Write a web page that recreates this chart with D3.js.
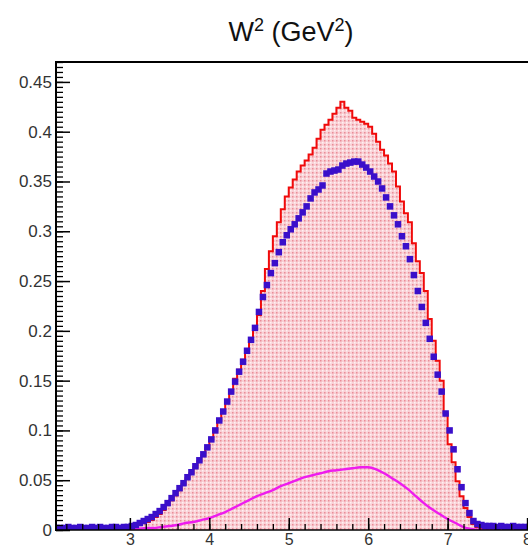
<!DOCTYPE html>
<html>
<head>
<meta charset="utf-8">
<script src="https://cdn.jsdelivr.net/npm/d3@7"></script>
<style>
  body { margin: 0; background: #fff; }
  svg text { font-family: "Liberation Sans", Arial, Helvetica, sans-serif; }
</style>
</head>
<body>
<div id="chart"></div>
<script>
// histogram binning (GeV^2)
var binStart = 2.05;
var binWidth = 0.05;

// red histogram (filled), one value per 0.05 bin from 2.05
var redValues = [
  0, 0, 0, 0, 0, 0, 0, 0, 0, 0,                                 // 2.05-2.55
  0, 0, 0, 0, 0, 0, 0, 0.001, 0.002, 0.003,                     // 2.55-3.05
  0.004, 0.005, 0.007, 0.008, 0.010, 0.013, 0.016, 0.020, 0.025, 0.030, // 3.05-3.55
  0.035, 0.040, 0.046, 0.052, 0.057, 0.063, 0.069, 0.075, 0.082, 0.091, // 3.55-4.05
  0.100, 0.110, 0.119, 0.129, 0.139, 0.152, 0.161, 0.171, 0.181, 0.192, // 4.05-4.55
  0.203, 0.216, 0.240, 0.262, 0.280, 0.295, 0.309, 0.322, 0.335, 0.344, // 4.55-5.05
  0.352, 0.360, 0.366, 0.371, 0.377, 0.384, 0.393, 0.402, 0.407, 0.412, // 5.05-5.55
  0.418, 0.424, 0.430, 0.424, 0.421, 0.414, 0.412, 0.410, 0.408, 0.405, // 5.55-6.05
  0.398, 0.390, 0.382, 0.376, 0.368, 0.360, 0.345, 0.330, 0.318, 0.309, // 6.05-6.55
  0.288, 0.270, 0.258, 0.240, 0.212, 0.190, 0.170, 0.150, 0.117, 0.086, // 6.55-7.05
  0.068, 0.049, 0.034, 0.022, 0.013, 0.006, 0.003, 0.001, 0, 0,         // 7.05-7.55
  0, 0, 0, 0, 0, 0, 0, 0, 0, 0                                  // 7.55-8.05
];

// blue points, same binning
var blueValues = [
  0.002, 0.002, 0.002, 0.003, 0.002, 0.002, 0.003, 0.002, 0.002, 0.003, // 2.05-2.55
  0.002, 0.003, 0.002, 0.002, 0.003, 0.003, 0.002, 0.003, 0.003, 0.004, // 2.55-3.05
  0.005, 0.007, 0.009, 0.011, 0.013, 0.016, 0.019, 0.023, 0.027, 0.032, // 3.05-3.55
  0.037, 0.042, 0.047, 0.053, 0.058, 0.064, 0.070, 0.076, 0.083, 0.091, // 3.55-4.05
  0.100, 0.110, 0.119, 0.129, 0.139, 0.149, 0.159, 0.169, 0.180, 0.191, // 4.05-4.55
  0.203, 0.219, 0.234, 0.246, 0.258, 0.268, 0.279, 0.289, 0.296, 0.302, // 4.55-5.05
  0.307, 0.313, 0.319, 0.325, 0.333, 0.339, 0.342, 0.346, 0.358, 0.360, // 5.05-5.55
  0.361, 0.362, 0.366, 0.368, 0.369, 0.370, 0.370, 0.367, 0.364, 0.360, // 5.55-6.05
  0.355, 0.350, 0.343, 0.334, 0.325, 0.316, 0.307, 0.295, 0.285, 0.272, // 6.05-6.55
  0.256, 0.240, 0.224, 0.208, 0.192, 0.174, 0.156, 0.139, 0.117, 0.100, // 6.55-7.05
  0.081, 0.061, 0.043, 0.027, 0.017, 0.009, 0.006, 0.005, 0.004, 0.004, // 7.05-7.55
  0.004, 0.003, 0.004, 0.003, 0.003, 0.004, 0.003, 0.003, 0.003, 0.003  // 7.55-8.05
];

// magenta curve, sampled every 0.1
var magentaX = [2.1, 2.3, 2.5, 2.7, 2.9, 3.0, 3.1, 3.2, 3.3, 3.4, 3.5, 3.6, 3.7, 3.8, 3.9,
  4.0, 4.1, 4.2, 4.3, 4.4, 4.5, 4.6, 4.7, 4.8, 4.9, 5.0, 5.1, 5.2, 5.3, 5.4, 5.5,
  5.6, 5.7, 5.8, 5.9, 6.0, 6.1, 6.2, 6.3, 6.4, 6.5, 6.6, 6.7, 6.8, 6.9, 7.0, 7.1,
  7.2, 7.3, 7.4, 7.6, 7.8, 8.0];
var magentaValues = [0, 0, 0, 0, 0, 0.001, 0.001, 0.002, 0.002, 0.003, 0.004, 0.005, 0.007, 0.008, 0.010,
  0.012, 0.015, 0.018, 0.022, 0.026, 0.030, 0.034, 0.037, 0.040, 0.044, 0.047, 0.050, 0.053, 0.055, 0.057, 0.059,
  0.060, 0.061, 0.062, 0.063, 0.063, 0.061, 0.057, 0.052, 0.047, 0.041, 0.034, 0.027, 0.021, 0.016, 0.011, 0.007,
  0.003, 0.001, 0, 0, 0, 0];

var xTicks = [3, 4, 5, 6, 7, 8];
var xTickLabels = ["3", "4", "5", "6", "7", "8"];
var yTicks = [0, 0.05, 0.1, 0.15, 0.2, 0.25, 0.3, 0.35, 0.4, 0.45];
var yTickLabels = ["0", "0.05", "0.1", "0.15", "0.2", "0.25", "0.3", "0.35", "0.4", "0.45"];

var W = 528, H = 550;
var margin = { top: 62, left: 56, bottom: 20 };
var plotRight = 535;

var svg = d3.select("#chart").append("svg")
    .attr("width", W)
    .attr("height", H);

var x = d3.scaleLinear().domain([2.07, 8.1]).range([margin.left, plotRight]);
var y = d3.scaleLinear().domain([0, 0.47]).range([H - margin.bottom, margin.top]);

// dotted fill like ROOT pattern
var defs = svg.append("defs");
var pat = defs.append("pattern")
    .attr("id", "dots")
    .attr("patternUnits", "userSpaceOnUse")
    .attr("width", 4).attr("height", 4);
pat.append("rect").attr("width", 4).attr("height", 4).attr("fill", "#f9d0d5");
pat.append("rect").attr("x", 0).attr("y", 0).attr("width", 1.5).attr("height", 1.5).attr("fill", "#ea8c97");
pat.append("rect").attr("x", 2).attr("y", 2).attr("width", 1.5).attr("height", 1.5).attr("fill", "#fff2f4");

defs.append("clipPath").attr("id", "clip")
  .append("rect")
    .attr("x", margin.left).attr("y", margin.top)
    .attr("width", plotRight - margin.left)
    .attr("height", y(0) - margin.top);

// step points for red histogram
var redSteps = redValues.map(function(v, i) { return { x: binStart + i * binWidth, v: v }; });
redSteps.push({ x: binStart + redValues.length * binWidth, v: redValues[redValues.length - 1] });

var plot = svg.append("g").attr("clip-path", "url(#clip)");

var area = d3.area()
    .curve(d3.curveStepAfter)
    .x(function(d) { return x(d.x); })
    .y0(y(0))
    .y1(function(d) { return y(d.v); });

var line = d3.line()
    .curve(d3.curveStepAfter)
    .x(function(d) { return x(d.x); })
    .y(function(d) { return y(d.v); });

plot.append("path")
    .datum(redSteps)
    .attr("d", area)
    .attr("fill", "url(#dots)");

plot.append("path")
    .datum(redSteps)
    .attr("d", line)
    .attr("fill", "none")
    .attr("stroke", "#f00a0a")
    .attr("stroke-width", 2);

var magLine = d3.line()
    .curve(d3.curveMonotoneX)
    .x(function(d, i) { return x(magentaX[i]); })
    .y(function(d) { return y(d); });

plot.append("path")
    .datum(magentaValues)
    .attr("d", magLine)
    .attr("fill", "none")
    .attr("stroke", "#ee1cee")
    .attr("stroke-width", 2.4);

var ms = 6.5;
plot.selectAll(".pt")
    .data(blueValues)
    .enter().append("rect")
    .attr("class", "pt")
    .attr("x", function(d, i) { return x(binStart + (i + 0.5) * binWidth) - ms / 2; })
    .attr("y", function(d) { return y(d) - ms / 2; })
    .attr("width", ms)
    .attr("height", ms)
    .attr("fill", "#3a0fca");

// axes, ticks inside the frame
var yMinor = d3.range(0, 0.4701, 0.005);
svg.append("g")
    .attr("transform", "translate(" + margin.left + ",0)")
    .call(d3.axisLeft(y).tickValues(yMinor).tickSizeInner(-7).tickSizeOuter(0).tickFormat(""))
    .call(function(g) { g.select(".domain").remove(); g.selectAll("line").attr("stroke-width", 1.3); });

var yAxis = svg.append("g")
    .attr("transform", "translate(" + margin.left + ",0)")
    .call(d3.axisLeft(y).tickValues(yTicks).tickSizeInner(-14).tickSizeOuter(0).tickPadding(4)
        .tickFormat(function(d, i) { return yTickLabels[i]; }));
yAxis.select(".domain").remove();
yAxis.selectAll("line").attr("stroke-width", 1.5);
yAxis.selectAll("text").attr("font-size", 17).attr("fill", "#333")
    .attr("font-family", "'Liberation Sans', Arial, sans-serif");

var xMinor = d3.range(2.2, 8.01, 0.2);
svg.append("g")
    .attr("transform", "translate(0," + y(0) + ")")
    .call(d3.axisBottom(x).tickValues(xMinor).tickSizeInner(-6).tickSizeOuter(0).tickFormat(""))
    .call(function(g) { g.select(".domain").remove(); g.selectAll("line").attr("stroke-width", 1.3); });

var xAxis = svg.append("g")
    .attr("transform", "translate(0," + y(0) + ")")
    .call(d3.axisBottom(x).tickValues(xTicks).tickSizeInner(-12).tickSizeOuter(0).tickPadding(4)
        .tickFormat(function(d, i) { return xTickLabels[i]; }));
xAxis.select(".domain").remove();
xAxis.selectAll("line").attr("stroke-width", 1.5);
xAxis.selectAll("text").attr("font-size", 16).attr("fill", "#333")
    .attr("font-family", "'Liberation Sans', Arial, sans-serif");

// frame lines
svg.append("line")
    .attr("x1", margin.left).attr("x2", margin.left)
    .attr("y1", margin.top).attr("y2", y(0) + 1)
    .attr("stroke", "#000").attr("stroke-width", 2);
svg.append("line")
    .attr("x1", margin.left - 1).attr("x2", W)
    .attr("y1", y(0)).attr("y2", y(0))
    .attr("stroke", "#000").attr("stroke-width", 1.5);
svg.append("line")
    .attr("x1", margin.left - 1).attr("x2", W)
    .attr("y1", margin.top).attr("y2", margin.top)
    .attr("stroke", "#000").attr("stroke-width", 2);

// title
var title = svg.append("text")
    .attr("x", 291).attr("y", 41)
    .attr("text-anchor", "middle")
    .attr("font-size", 27)
    .attr("fill", "#111");
title.append("tspan").text("W");
title.append("tspan").attr("font-size", 18).attr("dy", -10).text("2");
title.append("tspan").attr("dy", 10).text(" (GeV");
title.append("tspan").attr("font-size", 18).attr("dy", -10).text("2");
title.append("tspan").attr("dy", 10).text(")");
</script>
</body>
</html>
